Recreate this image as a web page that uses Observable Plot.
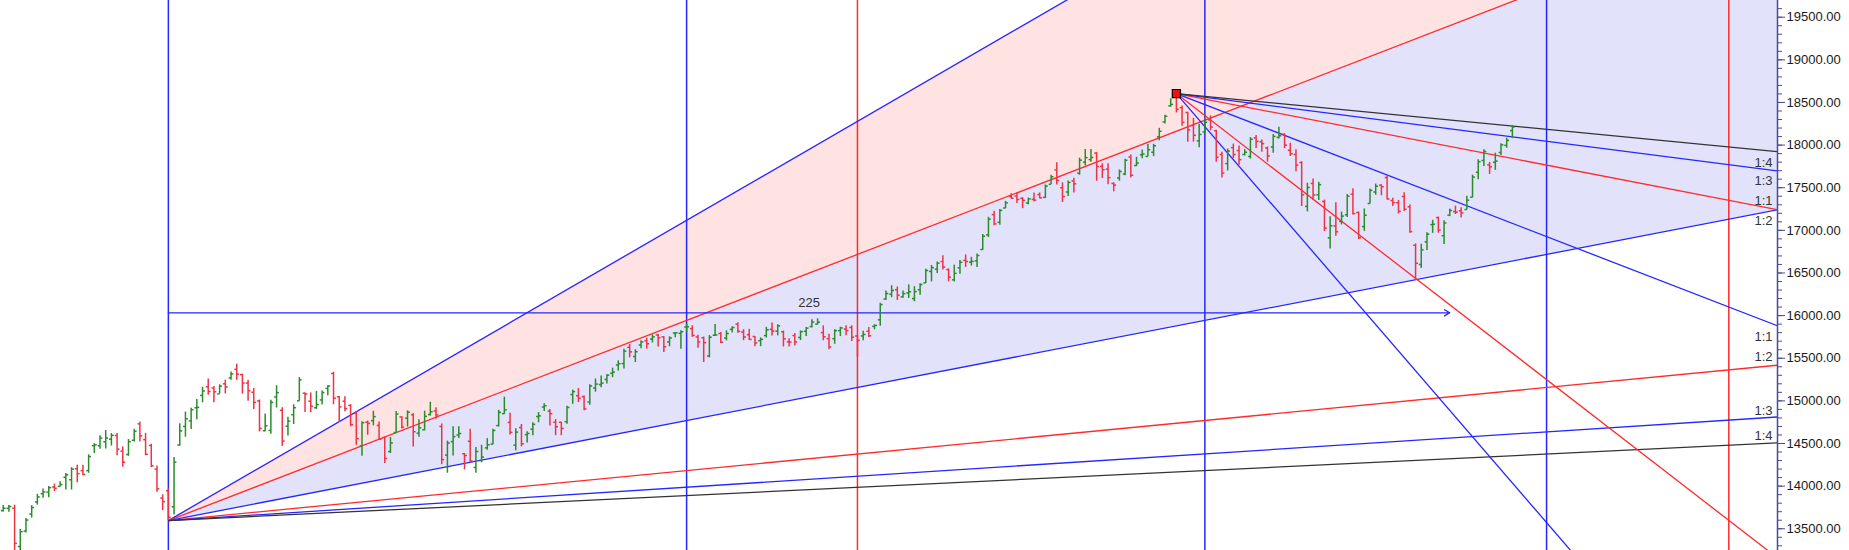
<!DOCTYPE html>
<html><head><meta charset="utf-8">
<script src="https://cdn.jsdelivr.net/npm/d3@7"></script>
<script src="https://cdn.jsdelivr.net/npm/@observablehq/plot@0.6"></script>
<style>html,body{margin:0;padding:0;background:#fff;overflow:hidden}</style>
</head><body><div id="chart"></div>
<script>
// Daily OHLC bars (bar index = position in these arrays)
const opens = [13713,13740,13741,13292,13473,13672,13815,13911,13930,13990,13997,14104,14075,14203,14182,14182,14474,14474,14520,14550,14594,14411,14371,14538,14730,14545,14477,14199,13860,13946,
13758,14482,14700,14764,14919,15064,15165,15150,15082,15200,15270,15370,15308,15209,15101,14999,14650,14653,15046,14889,14703,14838,15000,15090,14996,14920,15011,15146,15321,15048,
14996,14946,14855,14471,14750,14768,14712,14570,14406,14628,14811,14798,14838,14620,14661,14840,14882,14700,14364,14522,14599,14380,14526,14219,14300,14449,14493,14710,14850,14747,
14481,14687,14604,14669,14816,14928,14880,14749,14749,14756,15074,15059,15050,14987,15150,15191,15251,15323,15421,15438,15629,15520,15655,15706,15725,15773,15750,15692,15796,15792,
15867,15847,15750,15740,15526,15770,15790,15737,15839,15900,15807,15776,15755,15706,15766,15839,15818,15810,15692,15766,15744,15816,15872,15900,15800,15730,15729,15824,15842,15861,
15761,15762,15816,15874,15951,16195,16250,16304,16220,16266,16200,16303,16385,16518,16545,16635,16540,16420,16561,16648,16627,16642,16775,16947,17185,17095,17262,17399,17402,17375,
17320,17363,17420,17387,17540,17709,17500,17450,17580,17670,17800,17830,17906,17750,17718,17550,17615,17661,17861,17760,17886,17867,17916,18097,18272,18460,18602,18439,18382,18229,
18050,18154,18295,18169,17890,17783,17970,17936,17890,17867,18085,18040,17967,17978,18090,18127,17939,17890,17796,17281,17550,17417,17338,16912,17051,17104,17183,17424,17209,17044,
17315,17450,17530,17619,17350,17324,17397,17276,16825,16600,16865,17067,17150,16937,17178,17220,17230,17244,17388,17681,17820,17768,17798,17913,17997,18170];
const highs = [13773,13772,13777,13492,13619,13771,13904,13967,13997,14024,14050,14148,14216,14245,14245,14367,14498,14590,14653,14617,14617,14459,14547,14666,14753,14619,14491,14237,13898,13966,
14336,14731,14868,14914,15015,15159,15257,15168,15188,15243,15340,15431,15314,15242,15144,15010,14846,15008,15177,14920,14807,14955,15273,15093,15093,15111,15116,15176,15336,15051,
15048,14956,14875,14754,14763,14878,14752,14575,14572,14876,14813,14883,14849,14779,14879,14984,14919,14729,14528,14697,14697,14383,14667,14452,14479,14557,14667,14890,15044,14855,
14673,14723,14637,14743,14863,14967,14900,14781,14749,14938,15126,15144,15057,15190,15256,15293,15305,15384,15469,15606,15660,15599,15705,15733,15774,15778,15752,15751,15800,15823,
15901,15880,15769,15749,15766,15895,15801,15822,15870,15915,15835,15839,15755,15738,15862,15914,15893,15819,15730,15789,15820,15860,15952,15962,15880,15781,15835,15863,15881,15881,
15768,15817,15862,15892,16146,16290,16350,16336,16290,16360,16339,16375,16543,16589,16628,16702,16548,16592,16647,16712,16683,16722,16951,17153,17225,17245,17340,17430,17437,17384,
17379,17438,17439,17532,17645,17793,17557,17578,17610,17847,17948,17948,17912,17782,17781,17558,17708,17833,17884,17857,17942,18008,18009,18197,18350,18543,18604,18458,18384,18314,
18241,18310,18342,18174,17916,17954,18012,17989,17947,18087,18112,18061,17978,18123,18210,18132,18022,17946,17805,17553,17601,17564,17355,17160,17324,17214,17420,17489,17216,17251,
17484,17543,17534,17640,17376,17351,17441,17298,16841,16837,16971,17118,17155,17112,17250,17285,17264,17400,17647,17827,17944,17797,17905,18017,18081,18227];
const lows = [13698,13694,13131,13192,13450,13626,13778,13859,13864,13936,13991,13954,13954,14039,14121,14151,14383,14432,14435,14471,14357,14222,14350,14517,14517,14357,14218,13929,13713,13596,
13662,14469,14574,14664,14778,14977,15065,14977,15081,15081,15243,15242,15080,14995,14898,14636,14638,14608,14916,14467,14588,14723,14995,14863,14862,14900,14952,15061,14954,14745,
14872,14696,14478,14350,14597,14707,14535,14264,14382,14617,14671,14692,14459,14573,14649,14822,14785,14252,14151,14353,14560,14191,14273,14151,14274,14421,14484,14694,14841,14600,
14416,14461,14506,14591,14744,14875,14705,14592,14591,14725,14960,14980,14885,14950,15102,15153,15197,15272,15349,15374,15505,15450,15611,15607,15679,15632,15566,15635,15741,15606,
15799,15745,15616,15450,15505,15757,15673,15704,15796,15792,15707,15708,15636,15636,15738,15762,15763,15632,15632,15644,15707,15754,15856,15891,15706,15599,15664,15754,15764,15697,
15513,15705,15744,15834,15875,16177,16210,16177,16203,16202,16162,16238,16376,16395,16495,16535,16396,16395,16484,16566,16582,16565,16765,16916,17055,17059,17255,17368,17315,17254,
17300,17333,17370,17375,17539,17533,17326,17396,17437,17646,17757,17798,17576,17608,17535,17452,17576,17640,17613,17749,17840,17864,17865,18050,18248,18445,18377,18222,18033,18035,
17968,18131,18167,17799,17614,17697,17840,17764,17873,17836,17961,17915,17800,17905,18071,17958,17867,17688,17280,17216,17354,17351,16986,16782,16931,17064,17150,17180,16892,16988,
17308,17412,17406,17355,17279,17192,17220,16966,16410,16554,16763,16965,16966,16834,17161,17186,17146,17238,17383,17593,17749,17655,17704,17879,17964,18076];
const closes = [13741,13761,13328,13466,13602,13749,13873,13932,13982,13975,14019,14133,14199,14146,14137,14347,14485,14563,14564,14595,14433,14281,14521,14644,14590,14372,14238,13968,13818,13635,
14281,14648,14790,14896,14924,15116,15110,15106,15173,15163,15315,15313,15209,15119,14982,14676,14708,14982,15097,14529,14762,14920,15246,15081,14938,14956,15098,15174,15031,14929,
14910,14721,14557,14744,14736,14815,14549,14324,14507,14845,14691,14867,14638,14684,14819,14873,14835,14311,14505,14581,14617,14359,14296,14406,14341,14485,14653,14865,14895,14631,
14634,14497,14618,14725,14824,14943,14851,14697,14677,14923,15109,15030,14906,15175,15197,15208,15301,15338,15436,15583,15575,15577,15691,15670,15751,15740,15635,15738,15799,15811,
15869,15768,15691,15683,15746,15773,15687,15790,15860,15815,15749,15721,15680,15722,15834,15819,15880,15728,15690,15692,15812,15853,15924,15923,15752,15632,15824,15856,15824,15746,
15709,15779,15763,15885,16130,16259,16295,16238,16258,16280,16282,16364,16529,16563,16615,16569,16451,16496,16625,16635,16636,16705,16931,17132,17076,17234,17323,17377,17362,17353,
17369,17355,17380,17519,17629,17585,17397,17562,17546,17823,17853,17855,17749,17711,17618,17532,17691,17822,17646,17790,17895,17946,17992,18162,18338,18477,18419,18267,18178,18115,
18125,18268,18211,17857,17672,17930,17889,17829,17916,18068,18044,18017,17873,18102,18109,17999,17898,17765,17417,17503,17415,17536,17026,17054,16983,17167,17401,17197,16913,17177,
17469,17517,17511,17368,17325,17222,17248,16985,16614,16771,16955,17072,17004,17086,17233,17214,17204,17354,17625,17805,17925,17746,17812,18003,18055,18212];

// Y-axis tick values
const majorTicks = [13500,14000,14500,15000,15500,16000,16500,17000,17500,18000,18500,19000,19500];
const minorTicks = d3.range(13300, 19700, 100);

// Gann fans
const fanRatios = [3, 2, 1, 1/2, 1/3, 1/4];
const fanColors = ["blue", "red", "blue", "red", "blue", "black"];
const lowerFanOrigin = {i: 29, price: 13596};
const lowerFanUnit = 12.9;     // price per bar for 1:1
const topFanOrigin = {i: 206, price: 18604};
const topFanUnit = 25.8;

// Time (vertical) lines, bar index
const timeLines = [29, 120, 150, 211, 271, 303];
const timeLineColors = ["blue", "blue", "red", "blue", "blue", "red"];

// Horizontal bar-count arrow
const countLine = {from: 29, bars: 225, price: 16033};

// Ratio labels at the right edge
const fanLabelText = ["1:4", "1:3", "1:1", "1:2", "1:1", "1:2", "1:3", "1:4"];
const fanLabelPrice = [17793, 17585, 17350, 17116, 15755, 15513, 14888, 14594];

// ---------- drawing ----------
const palette = {blue: "#2626ff", red: "#ff2b2b", black: "#333333"};
const xDomain = [-0.474, 311.55];
const yDomain = [13245, 19696];
const farI = 340;

const bars = opens.map((o, i) => ({i, open: o, high: highs[i], low: lows[i], close: closes[i]}));
const barColor = d => d.close >= d.open ? "#2a8c2a" : "#ee3344";
const lineAt = (o, s, i) => o.price + s * (i - o.i);
const lowerLines = fanRatios.map((r, k) => ({slope: lowerFanUnit * r, color: palette[fanColors[k]]}));
const topLines = fanRatios.map((r, k) => ({slope: -topFanUnit * r, color: palette[fanColors[k]]}));
const span = [lowerFanOrigin.i, farI];
const labels = fanLabelText.map((t, k) => ({text: t, price: fanLabelPrice[k]}));
const vlines = timeLines.map((v, k) => ({i: v, color: palette[timeLineColors[k]]}));

const chart = Plot.plot({
  width: 1849, height: 550,
  marginLeft: 0, marginRight: 72, marginTop: 0, marginBottom: 0,
  x: {domain: xDomain, axis: null},
  y: {domain: yDomain, axis: null},
  style: {fontFamily: "'Liberation Sans', Arial, sans-serif", fontSize: "13px", background: "white", overflow: "hidden"},
  marks: [
    Plot.areaY(span, {x: d => d, y1: d => lineAt(lowerFanOrigin, lowerLines[1].slope, d), y2: d => lineAt(lowerFanOrigin, lowerLines[0].slope, d), fill: "#ffe2e2", clip: true}),
    Plot.areaY(span, {x: d => d, y1: d => lineAt(lowerFanOrigin, lowerLines[2].slope, d), y2: d => lineAt(lowerFanOrigin, lowerLines[1].slope, d), fill: "#e2e2fb", clip: true}),
    Plot.ruleX(vlines, {x: "i", stroke: d => d.color, strokeWidth: 1.5}),
    Plot.link(lowerLines, {x1: () => lowerFanOrigin.i, y1: () => lowerFanOrigin.price, x2: () => farI, y2: d => lineAt(lowerFanOrigin, d.slope, farI), stroke: d => d.color, strokeWidth: 1.3, clip: true}),
    Plot.link(topLines, {x1: () => topFanOrigin.i, y1: () => topFanOrigin.price, x2: () => farI, y2: d => lineAt(topFanOrigin, d.slope, farI), stroke: d => d.color, strokeWidth: 1.3, clip: true}),
    Plot.arrow([countLine], {x1: d => d.from, x2: d => d.from + d.bars, y1: "price", y2: "price", stroke: palette.blue, strokeWidth: 1.3, headLength: 7, bend: 0}),
    Plot.text([countLine], {x: d => d.from + d.bars / 2, y: "price", text: d => String(d.bars), dy: -10, fill: "#333", fontSize: 13}),
    Plot.ruleX(bars, {x: "i", y1: "low", y2: "high", stroke: barColor, strokeWidth: 1.5}),
    Plot.link(bars, {x1: d => d.i - 0.42, x2: "i", y1: "open", y2: "open", stroke: barColor, strokeWidth: 1.5}),
    Plot.link(bars, {x1: "i", x2: d => d.i + 0.42, y1: "close", y2: "close", stroke: barColor, strokeWidth: 1.5}),
    Plot.dot([topFanOrigin], {x: "i", y: "price", symbol: "square", r: 4.6, fill: "#f01010", stroke: "#000", strokeWidth: 1.2}),
    Plot.text(labels, {y: "price", text: "text", frameAnchor: "right", textAnchor: "end", dx: -5, fill: "#333", fontSize: 13}),
    Plot.ruleX([xDomain[1]], {stroke: "#4a4a9c", strokeWidth: 1.5}),
    Plot.axisY({anchor: "right", ticks: minorTicks, tickSize: 4, tickFormat: () => "", stroke: "#4a4a9c"}),
    Plot.axisY({anchor: "right", ticks: majorTicks, tickSize: 7, tickPadding: 2, tickFormat: d => d.toFixed(2), stroke: "#4a4a9c", fill: "#1a1a1a", fontSize: 13})
  ]
});
document.getElementById("chart").appendChild(chart);
</script>
</body></html>
